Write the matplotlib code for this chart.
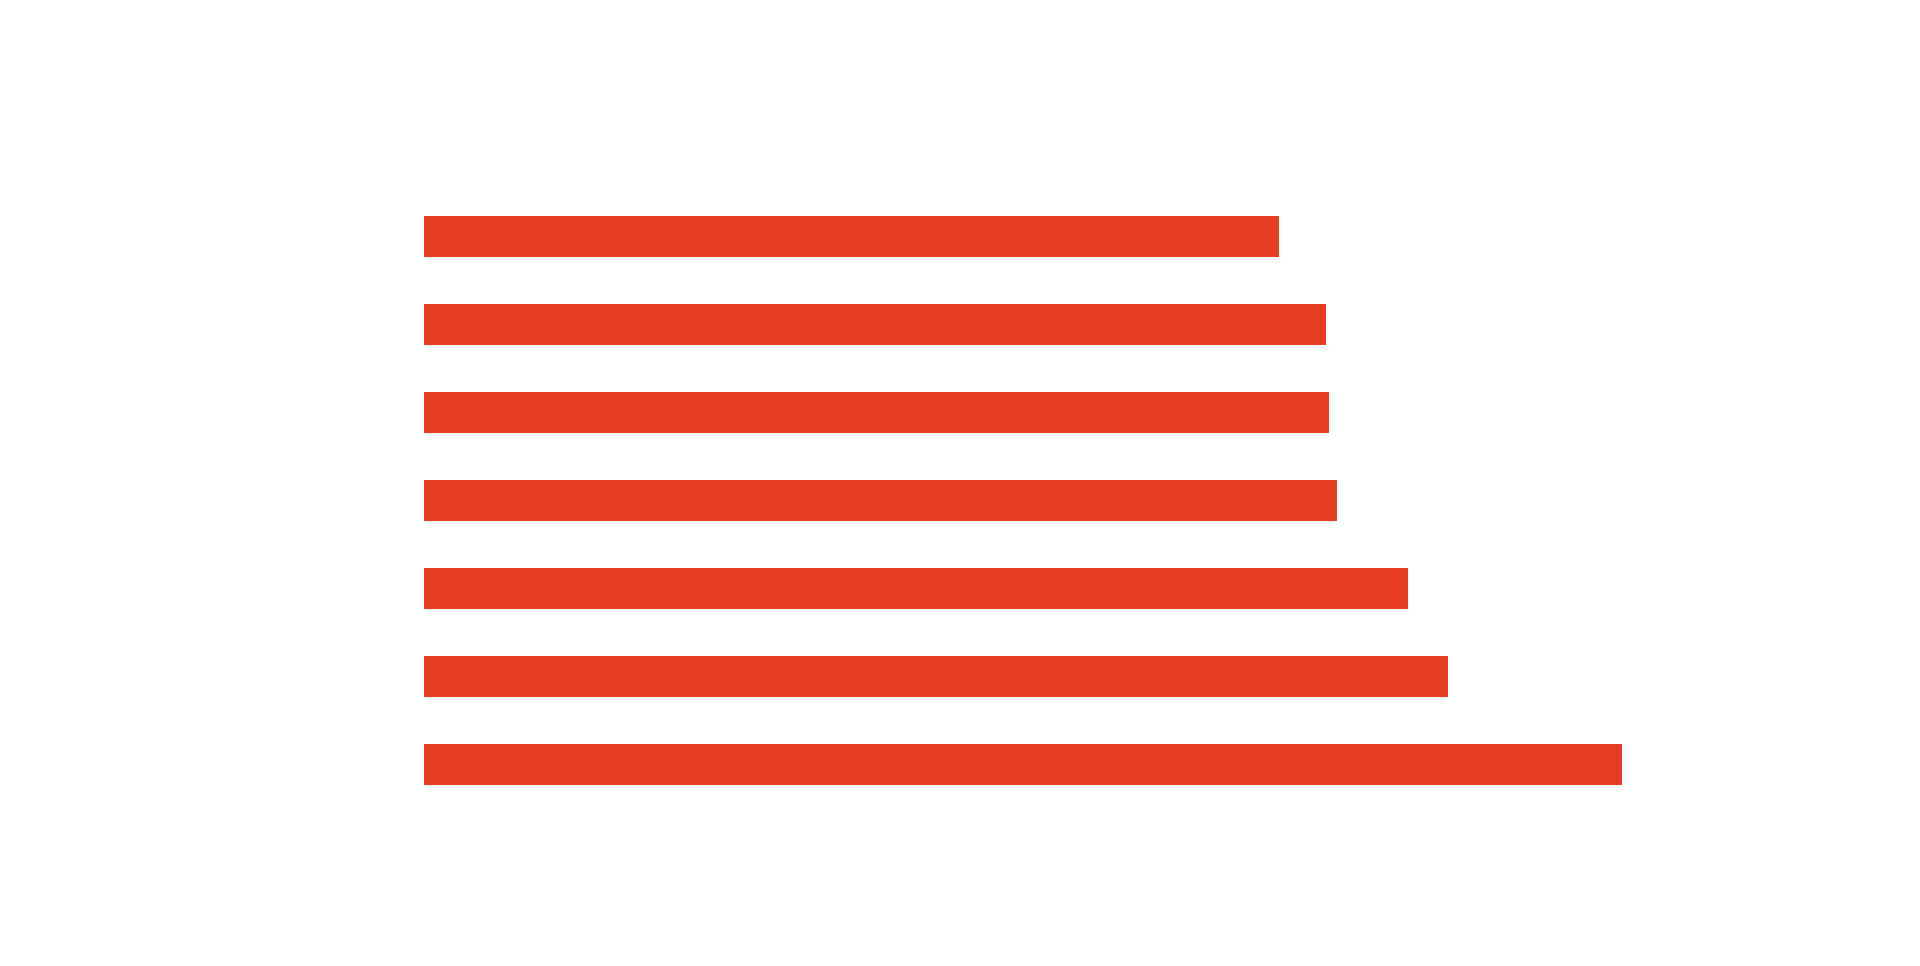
import matplotlib
matplotlib.use("Agg")
import matplotlib.pyplot as plt

categories = ["c1", "c2", "c3", "c4", "c5", "c6", "c7"]
values = [32.5, 34.3, 34.4, 34.7, 37.4, 38.94, 45.54]

fig = plt.figure(figsize=(19.2, 9.66), dpi=100)
fig.patch.set_facecolor("white")
left = 424 / 1920
width = (50 * 26.3) / 1920
ax = fig.add_axes([left, 0.1627, width, 0.8009 - 0.1627])
y = list(range(len(categories)))
ax.barh(y, values, height=0.461, color="#E53E22", edgecolor="none")
ax.set_xlim(0, 50)
ax.set_ylim(len(categories) - 0.5, -0.5)
ax.axis("off")
fig.savefig("out.png", dpi=100, facecolor="white")
